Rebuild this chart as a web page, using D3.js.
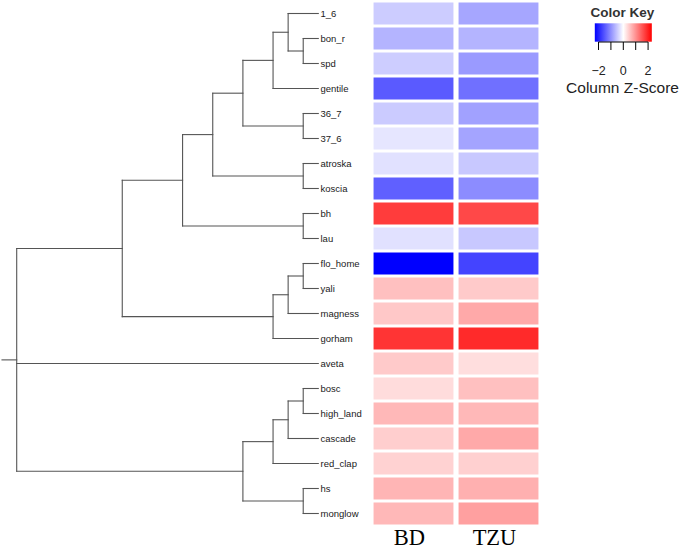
<!DOCTYPE html>
<html>
<head>
<meta charset="utf-8">
<script src="https://cdn.jsdelivr.net/npm/d3@7"></script>
<style>
  html, body { margin: 0; padding: 0; background: #fff; }
  svg { display: block; }
</style>
</head>
<body>
<svg id="chart" width="685" height="550"></svg>
<script>
// ---------------- DATA ----------------
const rowLabels = ["1_6","bon_r","spd","gentile","36_7","37_6","atroska","koscia","bh","lau",
  "flo_home","yali","magness","gorham","aveta","bosc","high_land","cascade","red_clap","hs","monglow"];
const colLabels = ["BD","TZU"];
// column z-scores
const bdValues  = [-0.46,-0.68,-0.45,-1.49,-0.47,-0.23,-0.27,-1.43, 1.76,-0.27,
  -2.30, 0.57, 0.50, 1.83, 0.48, 0.32, 0.64, 0.44, 0.41, 0.67, 0.64];
const tzuValues = [-0.80,-0.68,-0.91,-1.29,-0.85,-0.82,-0.50,-1.04, 1.65,-0.50,
  -1.69, 0.48, 0.78, 1.92, 0.30, 0.57, 0.64, 0.78, 0.42, 0.71, 0.86];
// row dendrogram merges: kids are leaf names or indexes of earlier merges; h = merge height
const merges = [
  {kids:["bon_r","spd"], h:0.5},        // 0
  {kids:["1_6",0], h:1.0},              // 1
  {kids:[1,"gentile"], h:1.5},          // 2
  {kids:["36_7","37_6"], h:0.5},        // 3
  {kids:[2,3], h:2.5},                  // 4
  {kids:["atroska","koscia"], h:0.5},   // 5
  {kids:[4,5], h:3.5},                  // 6
  {kids:["bh","lau"], h:0.5},           // 7
  {kids:[6,7], h:4.5},                  // 8
  {kids:["flo_home","yali"], h:0.5},    // 9
  {kids:[9,"magness"], h:1.0},          // 10
  {kids:[10,"gorham"], h:1.5},          // 11
  {kids:[8,11], h:6.5},                 // 12
  {kids:["bosc","high_land"], h:0.5},   // 13
  {kids:[13,"cascade"], h:1.0},         // 14
  {kids:[14,"red_clap"], h:1.5},        // 15
  {kids:["hs","monglow"], h:0.5},       // 16
  {kids:[15,16], h:2.5},                // 17
  {kids:[12,"aveta",17], h:10}          // 18 root
];
const keyTicks = [-2,-1,0,1,2];
const keyTickLabels = [-2,0,2];
const keyRange = [-2.3, 2.3];

// ---------------- DRAW ----------------
const svg = d3.select("#chart");
const values = {BD: bdValues, TZU: tzuValues};

const y = d3.scaleBand().domain(rowLabels).range([1, 526]).paddingInner(0.12).paddingOuter(0.06);
const x = d3.scaleBand().domain(colLabels).range([371, 541]).paddingInner(0.06).paddingOuter(0.03);
const color = d3.scaleLinear().domain([keyRange[0], 0, keyRange[1]])
  .range(["#0000ff", "#ffffff", "#ff0000"]).clamp(true);

// heatmap cells
const cells = [];
colLabels.forEach(c => rowLabels.forEach((r, i) => cells.push({r, c, v: values[c][i]})));
svg.append("g").selectAll("rect").data(cells).join("rect")
  .attr("x", d => x(d.c)).attr("y", d => y(d.r))
  .attr("width", x.bandwidth()).attr("height", y.bandwidth())
  .attr("fill", d => color(d.v));

// row labels
svg.append("g").selectAll("text").data(rowLabels).join("text")
  .attr("x", 320.5).attr("y", d => y(d) + y.bandwidth() / 2 + 3.3)
  .attr("font-family", "Liberation Sans, Arial, sans-serif").attr("font-size", 9.5)
  .attr("fill", "#1a1a1a").text(d => d);

// column labels
svg.append("g").selectAll("text").data(colLabels).join("text")
  .attr("x", d => x(d) + x.bandwidth() / 2 - 4).attr("y", 545)
  .attr("text-anchor", "middle")
  .attr("font-family", "Liberation Serif, 'Times New Roman', serif").attr("font-size", 22.5)
  .attr("fill", "#000").text(d => d);

// dendrogram
const dx = d3.scaleLinear().domain([0, 10]).range([318.3, 16.7]);
function build(k) {
  if (typeof k === "string") return {leaf: true, name: k, h: 0, y: y(k) + y.bandwidth() / 2};
  const m = merges[k];
  const kids = m.kids.map(build);
  const ys = kids.map(c => c.y);
  return {leaf: false, h: m.h, kids, y: (d3.min(ys) + d3.max(ys)) / 2};
}
const root = build(merges.length - 1);
const segs = [];
(function walk(n) {
  if (n.leaf) return;
  const ys = n.kids.map(c => c.y);
  segs.push([dx(n.h), d3.min(ys), dx(n.h), d3.max(ys)]);
  n.kids.forEach(c => { segs.push([dx(n.h), c.y, dx(c.h), c.y]); walk(c); });
})(root);
segs.push([dx(root.h) - 14.7, root.y, dx(root.h), root.y]);
svg.append("g").selectAll("line").data(segs).join("line")
  .attr("x1", d => d[0]).attr("y1", d => d[1]).attr("x2", d => d[2]).attr("y2", d => d[3])
  .attr("stroke", "#555").attr("stroke-width", 1.1).attr("stroke-linecap", "square");

// color key
const kx = d3.scaleLinear().domain(keyRange).range([594.8, 651.8]);
const defs = svg.append("defs");
const grad = defs.append("linearGradient").attr("id", "keygrad");
grad.selectAll("stop").data([0, 0.5, 1]).join("stop")
  .attr("offset", d => d).attr("stop-color", d => color(keyRange[0] + d * (keyRange[1] - keyRange[0])));
const key = svg.append("g");
key.append("rect").attr("x", kx(keyRange[0])).attr("y", 23.3)
  .attr("width", kx(keyRange[1]) - kx(keyRange[0])).attr("height", 18.4)
  .attr("fill", "url(#keygrad)");
key.append("line").attr("x1", kx(keyTicks[0])).attr("x2", kx(keyTicks[keyTicks.length - 1]))
  .attr("y1", 42).attr("y2", 42).attr("stroke", "#000").attr("stroke-width", 1);
key.selectAll(".tk").data(keyTicks).join("line").attr("class", "tk")
  .attr("x1", d => kx(d)).attr("x2", d => kx(d)).attr("y1", 42).attr("y2", 50)
  .attr("stroke", "#000").attr("stroke-width", 1);
key.selectAll(".tl").data(keyTickLabels).join("text").attr("class", "tl")
  .attr("x", d => kx(d)).attr("y", 75).attr("text-anchor", "middle")
  .attr("font-family", "Liberation Sans, Arial, sans-serif").attr("font-size", 12.5)
  .attr("fill", "#222").text(d => d < 0 ? "\u2212" + Math.abs(d) : d);
key.append("text").attr("x", 622.5).attr("y", 16.7).attr("text-anchor", "middle")
  .attr("font-family", "Liberation Sans, Arial, sans-serif").attr("font-size", 13.5)
  .attr("font-weight", "bold").attr("fill", "#333").text("Color Key");
key.append("text").attr("x", 622.5).attr("y", 92.5).attr("text-anchor", "middle")
  .attr("font-family", "Liberation Sans, Arial, sans-serif").attr("font-size", 15.5)
  .attr("fill", "#222").text("Column Z-Score");
</script>
</body>
</html>
